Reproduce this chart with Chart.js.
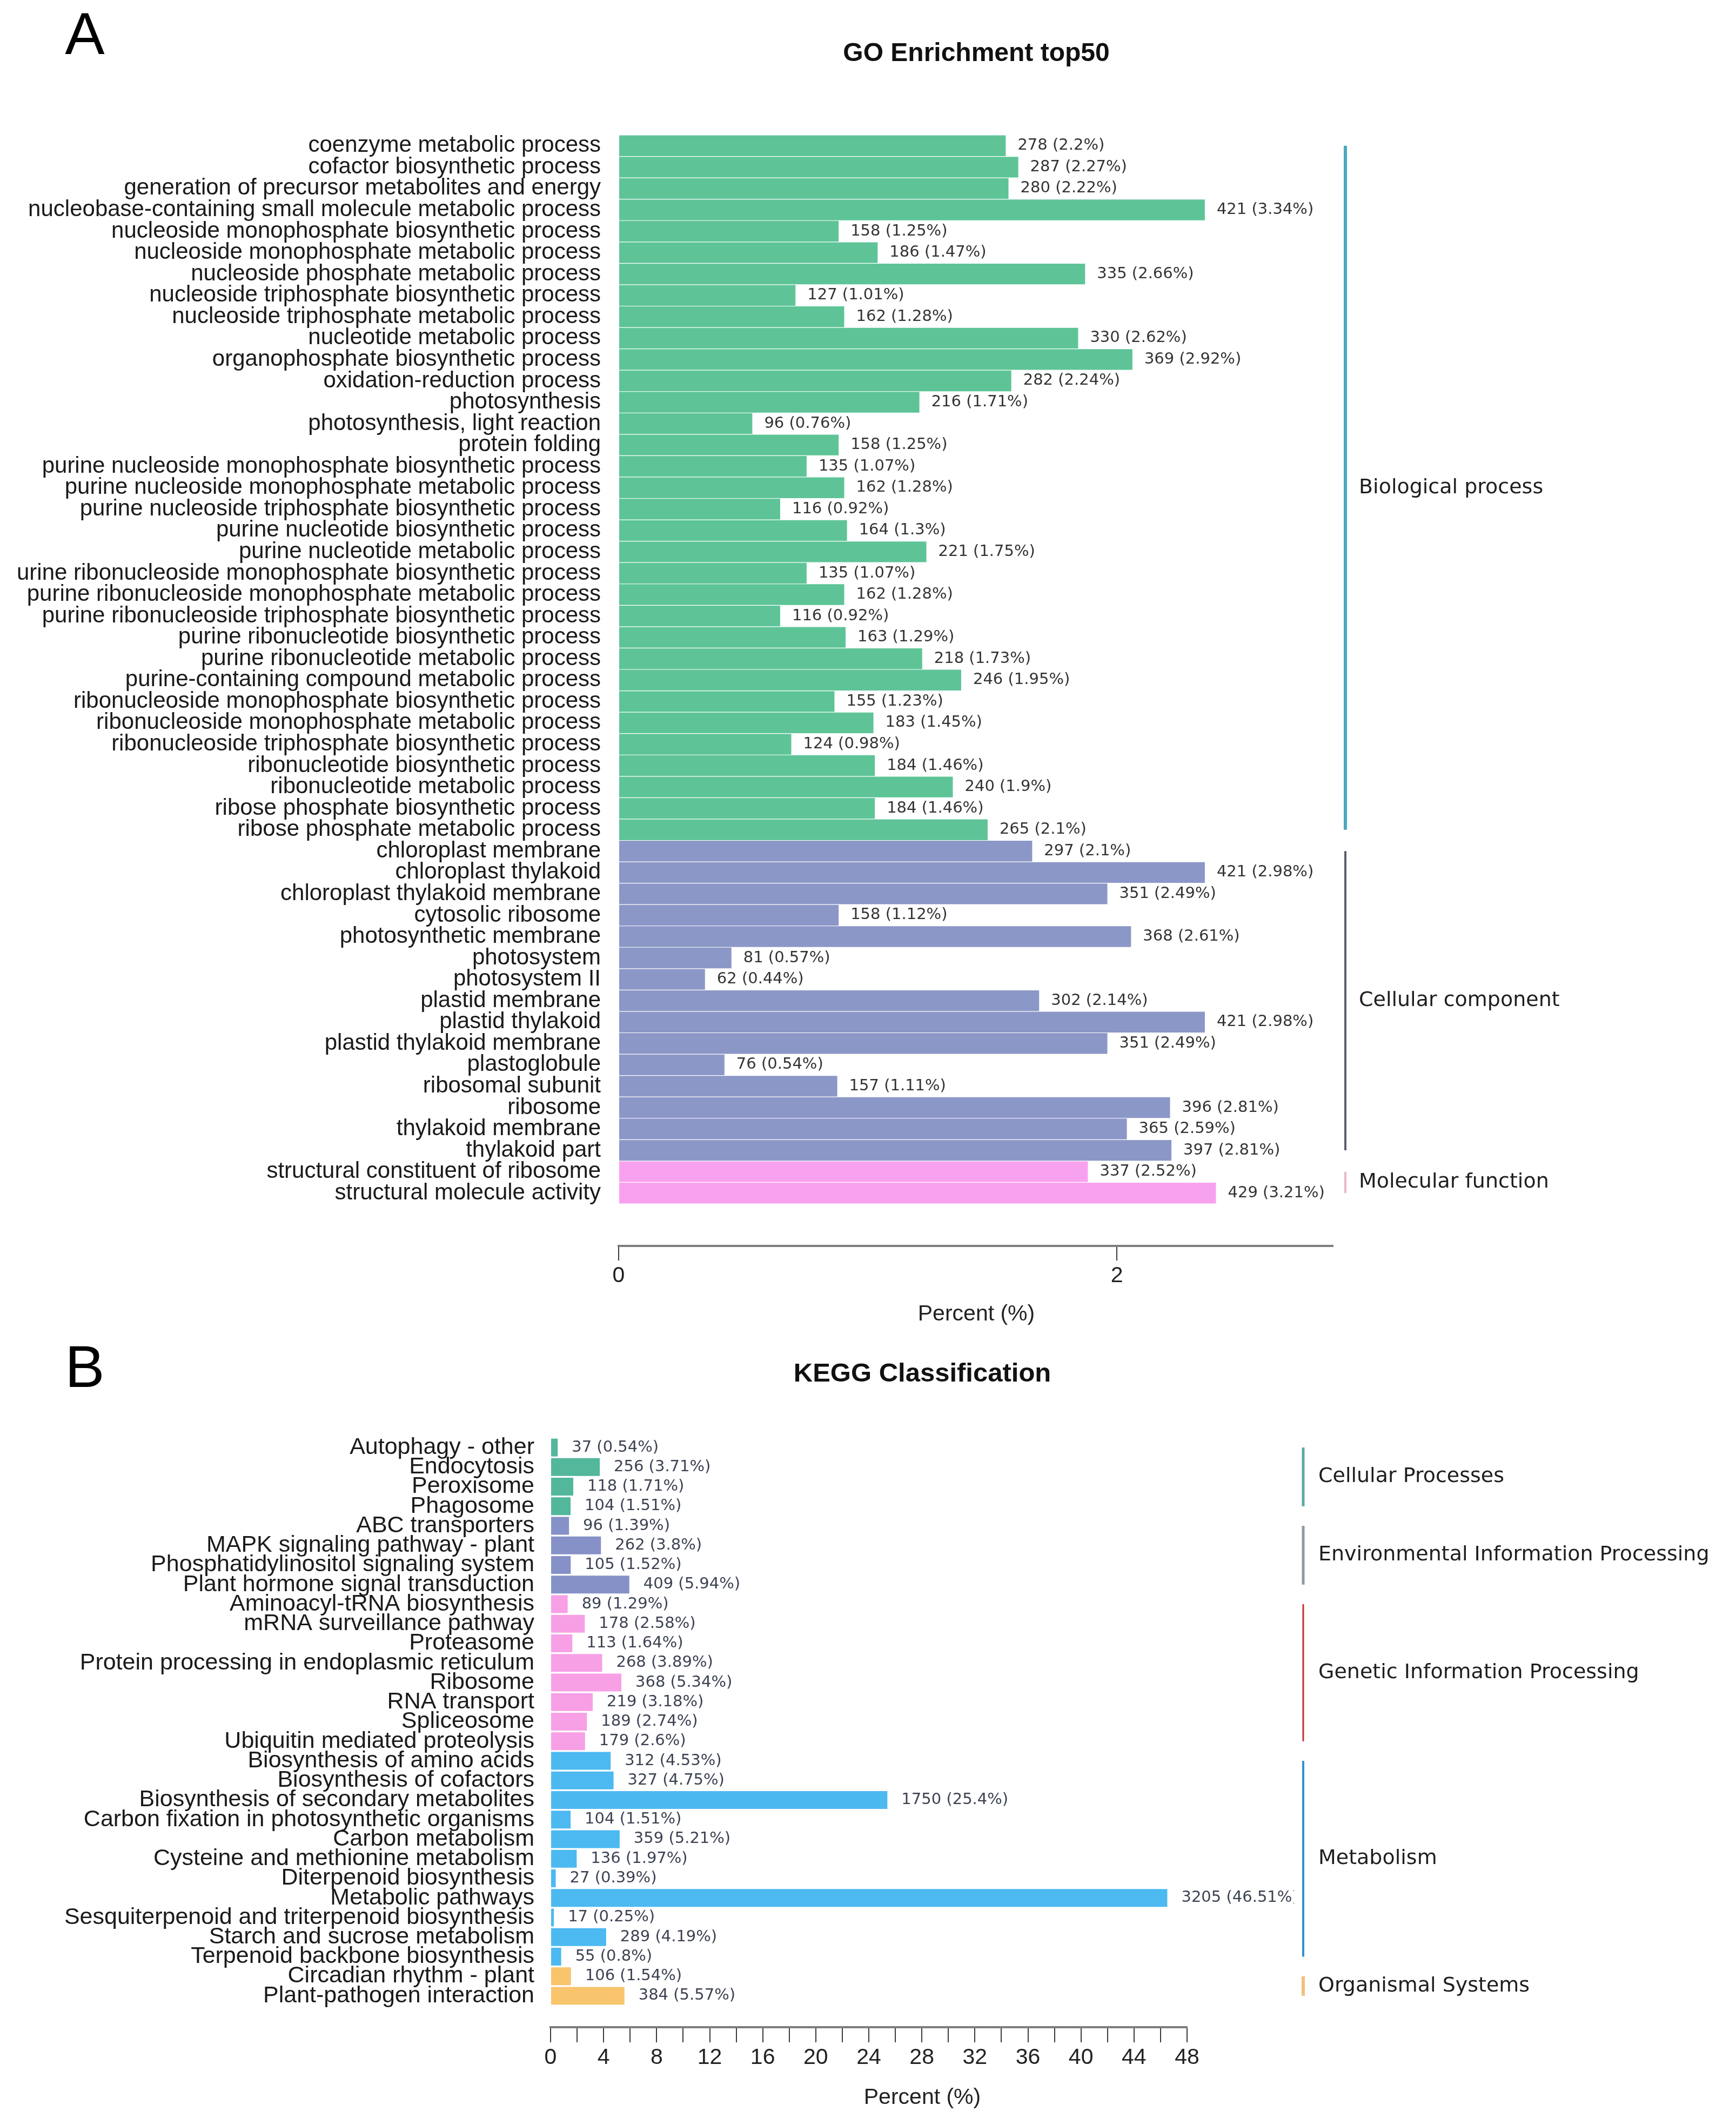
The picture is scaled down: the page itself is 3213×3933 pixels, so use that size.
<!DOCTYPE html>
<html>
<head>
<meta charset="utf-8">
<title>GO Enrichment top50 / KEGG Classification</title>
<script src="https://cdn.jsdelivr.net/npm/chart.js@4.4.1/dist/chart.umd.min.js"></script>
<style>
  html, body { margin: 0; padding: 0; background: #fff; overflow: hidden; }
  body { width: 3213px; height: 3933px; position: relative; }
  /* the GO panel is cropped on its left edge, as in the source figure */
  #go-clip { position: absolute; left: 30px; top: 0; width: 3183px; height: 2480px; overflow: hidden; }
  #go-box { position: absolute; left: -30px; top: 0; width: 3213px; height: 2480px; }
  #kegg-box { position: absolute; left: 0; top: 2480px; width: 3213px; height: 1453px; }
</style>
</head>
<body>
<div id="go-clip"><div id="go-box"><canvas id="go-chart"></canvas></div></div>
<div id="kegg-box"><canvas id="kegg-chart"></canvas></div>
<script>
// ---- GO data ----
const goTerms = [
  'coenzyme metabolic process',
  'cofactor biosynthetic process',
  'generation of precursor metabolites and energy',
  'nucleobase-containing small molecule metabolic process',
  'nucleoside monophosphate biosynthetic process',
  'nucleoside monophosphate metabolic process',
  'nucleoside phosphate metabolic process',
  'nucleoside triphosphate biosynthetic process',
  'nucleoside triphosphate metabolic process',
  'nucleotide metabolic process',
  'organophosphate biosynthetic process',
  'oxidation-reduction process',
  'photosynthesis',
  'photosynthesis, light reaction',
  'protein folding',
  'purine nucleoside monophosphate biosynthetic process',
  'purine nucleoside monophosphate metabolic process',
  'purine nucleoside triphosphate biosynthetic process',
  'purine nucleotide biosynthetic process',
  'purine nucleotide metabolic process',
  'purine ribonucleoside monophosphate biosynthetic process',
  'purine ribonucleoside monophosphate metabolic process',
  'purine ribonucleoside triphosphate biosynthetic process',
  'purine ribonucleotide biosynthetic process',
  'purine ribonucleotide metabolic process',
  'purine-containing compound metabolic process',
  'ribonucleoside monophosphate biosynthetic process',
  'ribonucleoside monophosphate metabolic process',
  'ribonucleoside triphosphate biosynthetic process',
  'ribonucleotide biosynthetic process',
  'ribonucleotide metabolic process',
  'ribose phosphate biosynthetic process',
  'ribose phosphate metabolic process',
  'chloroplast membrane',
  'chloroplast thylakoid',
  'chloroplast thylakoid membrane',
  'cytosolic ribosome',
  'photosynthetic membrane',
  'photosystem',
  'photosystem II',
  'plastid membrane',
  'plastid thylakoid',
  'plastid thylakoid membrane',
  'plastoglobule',
  'ribosomal subunit',
  'ribosome',
  'thylakoid membrane',
  'thylakoid part',
  'structural constituent of ribosome',
  'structural molecule activity'
];
const goCounts = [278, 287, 280, 421, 158, 186, 335, 127, 162, 330, 369, 282, 216, 96, 158,
  135, 162, 116, 164, 221, 135, 162, 116, 163, 218, 246, 155, 183, 124, 184, 240, 184, 265,
  297, 421, 351, 158, 368, 81, 62, 302, 421, 351, 76, 157, 396, 365, 397,
  337, 429];
const goPercents = [2.2, 2.27, 2.22, 3.34, 1.25, 1.47, 2.66, 1.01, 1.28, 2.62, 2.92, 2.24, 1.71, 0.76, 1.25,
  1.07, 1.28, 0.92, 1.3, 1.75, 1.07, 1.28, 0.92, 1.29, 1.73, 1.95, 1.23, 1.45, 0.98, 1.46, 1.9, 1.46, 2.1,
  2.1, 2.98, 2.49, 1.12, 2.61, 0.57, 0.44, 2.14, 2.98, 2.49, 0.54, 1.11, 2.81, 2.59, 2.81,
  2.52, 3.21];
const goGroupNames = ['Biological process', 'Cellular component', 'Molecular function'];
const goGroupSizes = [33, 15, 2];
const goTicks = [0, 2];            // percent ticks on the axis
const goCountsPerPercent = 178.9;  // tick spacing, in gene counts
const goAxisMax = 513;

// ---- KEGG data ----
const keggTerms = [
  'Autophagy - other', 'Endocytosis', 'Peroxisome', 'Phagosome',
  'ABC transporters', 'MAPK signaling pathway - plant', 'Phosphatidylinositol signaling system', 'Plant hormone signal transduction',
  'Aminoacyl-tRNA biosynthesis', 'mRNA surveillance pathway', 'Proteasome', 'Protein processing in endoplasmic reticulum',
  'Ribosome', 'RNA transport', 'Spliceosome', 'Ubiquitin mediated proteolysis',
  'Biosynthesis of amino acids', 'Biosynthesis of cofactors', 'Biosynthesis of secondary metabolites',
  'Carbon fixation in photosynthetic organisms', 'Carbon metabolism', 'Cysteine and methionine metabolism',
  'Diterpenoid biosynthesis', 'Metabolic pathways', 'Sesquiterpenoid and triterpenoid biosynthesis',
  'Starch and sucrose metabolism', 'Terpenoid backbone biosynthesis',
  'Circadian rhythm - plant', 'Plant-pathogen interaction'
];
const keggCounts = [37, 256, 118, 104, 96, 262, 105, 409, 89, 178, 113, 268, 368, 219, 189, 179,
  312, 327, 1750, 104, 359, 136, 27, 3205, 17, 289, 55, 106, 384];
const keggPercents = [0.54, 3.71, 1.71, 1.51, 1.39, 3.8, 1.52, 5.94, 1.29, 2.58, 1.64, 3.89, 5.34, 3.18, 2.74, 2.6,
  4.53, 4.75, 25.4, 1.51, 5.21, 1.97, 0.39, 46.51, 0.25, 4.19, 0.8, 1.54, 5.57];
const keggGroupNames = ['Cellular Processes', 'Environmental Information Processing', 'Genetic Information Processing',
  'Metabolism', 'Organismal Systems'];
const keggGroupSizes = [4, 4, 8, 11, 2];
const keggTicks = [0, 2, 4, 6, 8, 10, 12, 14, 16, 18, 20, 22, 24, 26, 28, 30, 32, 34, 36, 38, 40, 42, 44, 46, 48];

// ---- styles ----
const goBarColors = ['#5ec497', '#8b97c7', '#f8a2ef'];
const goLineColors = ['#4aa9c1', '#5a5f6b', '#e9b8cb'];
const goLineWidths = [6, 4, 4];
const keggBarColors = ['#52b79b', '#8691c8', '#f7a0e6', '#4cb9f1', '#f8c46c'];
const keggLineColors = ['#5ba8a3', '#9197a7', '#c42d3c', '#3191d2', '#f3bf7c'];
const keggLineWidths = [5, 5, 3, 4, 6];

function rowGroups(sizes) {
  const out = [];
  sizes.forEach((n, g) => { for (let k = 0; k < n; k++) out.push(g); });
  return out;
}
function groupSpans(names, sizes, colors, widths) {
  let start = 0;
  return names.map((name, g) => {
    const span = { name, from: start, to: start + sizes[g] - 1, color: colors[g], width: widths[g] };
    start += sizes[g];
    return span;
  });
}

// pull the bars up off the x axis, leaving a gap above the axis line
const barGap = {
  id: 'barGap',
  afterLayout(chart, args, opts) {
    const y = chart.scales.y;
    y.bottom -= opts.gap;
    y.height -= opts.gap;
    y.configure();
  }
};

const decor = {
  id: 'decor',
  afterDatasetsDraw(chart, args, o) {
    const ctx = chart.ctx;
    const area = chart.chartArea;
    const y = chart.scales.y;

    // value labels
    ctx.save();
    ctx.beginPath();
    ctx.rect(0, 0, area.right + o.clipRight, chart.height);
    ctx.clip();
    ctx.font = o.valueFont;
    ctx.fillStyle = o.valueColor;
    ctx.textAlign = 'left';
    ctx.textBaseline = 'middle';
    chart.getDatasetMeta(0).data.forEach((bar, i) => {
      ctx.fillText(o.counts[i] + ' (' + o.percents[i] + '%)', bar.x + o.valueGap, bar.y);
    });
    ctx.restore();

    // group brackets on the right
    ctx.save();
    ctx.font = o.groupFont;
    ctx.fillStyle = '#1e1e1e';
    ctx.textAlign = 'left';
    ctx.textBaseline = 'middle';
    o.groups.forEach(g => {
      const y0 = y.getPixelForValue(g.from);
      const y1 = y.getPixelForValue(g.to);
      ctx.strokeStyle = g.color;
      ctx.lineWidth = g.width;
      ctx.beginPath();
      ctx.moveTo(area.right + o.bracketOffset, y0);
      ctx.lineTo(area.right + o.bracketOffset, y1);
      ctx.stroke();
      ctx.fillText(g.name, area.right + o.labelOffset, (y0 + y1) / 2);
    });
    ctx.restore();
  },
  afterDraw(chart, args, o) {
    const ctx = chart.ctx;
    ctx.save();
    ctx.textAlign = 'center';
    ctx.textBaseline = 'middle';
    ctx.fillStyle = '#000';
    ctx.font = '110px "Liberation Sans", Arial, sans-serif';
    ctx.fillText(o.letter.text, o.letter.x, o.letter.y);
    ctx.fillStyle = '#111';
    ctx.font = 'bold ' + o.title.size + 'px "Liberation Sans", Arial, sans-serif';
    ctx.fillText(o.title.text, o.title.x, o.title.y);
    ctx.fillStyle = '#222';
    ctx.font = '41px "Liberation Sans", Arial, sans-serif';
    ctx.fillText(o.axisTitle.text, o.axisTitle.x, o.axisTitle.y);
    ctx.restore();
  }
};

const tickFont = { family: '"Liberation Sans", Arial, sans-serif', size: 41 };

// ---- GO chart ----
const goRowGroup = rowGroups(goGroupSizes);
new Chart(document.getElementById('go-chart'), {
  type: 'bar',
  data: {
    labels: goTerms,
    datasets: [{
      data: goCounts,
      backgroundColor: goRowGroup.map(g => goBarColors[g]),
      borderWidth: 0,
      categoryPercentage: 1,
      barPercentage: 0.97
    }]
  },
  options: {
    indexAxis: 'y',
    responsive: true,
    maintainAspectRatio: false,
    animation: false,
    devicePixelRatio: 1,
    layout: { padding: { top: 250, right: 746, left: 0, bottom: 0 } },
    plugins: {
      legend: { display: false },
      tooltip: { enabled: false },
      barGap: { gap: 78 },
      decor: {
        counts: goCounts,
        percents: goPercents,
        valueFont: '29px "DejaVu Sans", sans-serif',
        valueColor: '#333',
        valueGap: 22,
        clipRight: 700,
        groups: groupSpans(goGroupNames, goGroupSizes, goLineColors, goLineWidths),
        groupFont: '38px "DejaVu Sans", sans-serif',
        bracketOffset: 23,
        labelOffset: 48,
        letter: { text: 'A', x: 157, y: 70 },
        title: { text: 'GO Enrichment top50', x: 1807, y: 100, size: 48 },
        axisTitle: { text: 'Percent (%)', x: 1807, y: 2433 }
      }
    },
    scales: {
      y: {
        grid: { display: false, drawTicks: false },
        border: { display: false },
        ticks: { font: { family: '"Liberation Sans", Arial, sans-serif', size: 42 }, color: '#1a1a1a', padding: 33, autoSkip: false },
        afterFit: s => { s.width = 1145; }
      },
      x: {
        min: 0,
        max: goAxisMax,
        border: { display: true, color: '#7d7d7d', width: 4 },
        grid: { drawOnChartArea: false, drawTicks: true, tickLength: 27, color: '#3a3a3a', lineWidth: 2 },
        ticks: {
          font: tickFont, color: '#222', padding: 4, autoSkip: false, maxRotation: 0,
          callback: v => String(Math.round(v / goCountsPerPercent * 10) / 10)
        },
        afterBuildTicks: s => { s.ticks = goTicks.map(p => ({ value: p * goCountsPerPercent })); },
        afterFit: s => { s.height = 174; }
      }
    }
  },
  plugins: [barGap, decor]
});

// ---- KEGG chart ----
const keggRowGroup = rowGroups(keggGroupSizes);
new Chart(document.getElementById('kegg-chart'), {
  type: 'bar',
  data: {
    labels: keggTerms,
    datasets: [{
      data: keggPercents,
      backgroundColor: keggRowGroup.map(g => keggBarColors[g]),
      borderWidth: 0,
      categoryPercentage: 1,
      barPercentage: 0.91
    }]
  },
  options: {
    indexAxis: 'y',
    responsive: true,
    maintainAspectRatio: false,
    animation: false,
    devicePixelRatio: 1,
    layout: { padding: { top: 181, right: 1016, left: 0, bottom: 0 } },
    plugins: {
      legend: { display: false },
      tooltip: { enabled: false },
      barGap: { gap: 40 },
      decor: {
        counts: keggCounts,
        percents: keggPercents,
        valueFont: '29px "DejaVu Sans", sans-serif',
        valueColor: '#3c4252',
        valueGap: 26,
        clipRight: 198,
        groups: groupSpans(keggGroupNames, keggGroupSizes, keggLineColors, keggLineWidths),
        groupFont: '38px "DejaVu Sans", sans-serif',
        bracketOffset: 215,
        labelOffset: 243,
        letter: { text: 'B', x: 157, y: 57 },
        title: { text: 'KEGG Classification', x: 1707, y: 63, size: 49 },
        axisTitle: { text: 'Percent (%)', x: 1707, y: 1403 }
      }
    },
    scales: {
      y: {
        grid: { display: false, drawTicks: false },
        border: { display: false },
        ticks: { font: { family: '"Liberation Sans", Arial, sans-serif', size: 43 }, color: '#1a1a1a', padding: 30, autoSkip: false },
        afterFit: s => { s.width = 1019; }
      },
      x: {
        min: 0,
        max: 48,
        border: { display: true, color: '#7d7d7d', width: 4 },
        grid: { drawOnChartArea: false, drawTicks: true, tickLength: 28, color: '#3a3a3a', lineWidth: 2 },
        ticks: {
          font: tickFont, color: '#222', padding: 4, autoSkip: false, maxRotation: 0,
          callback: v => (v % 4 === 0 ? String(v) : '')
        },
        afterBuildTicks: s => { s.ticks = keggTicks.map(v => ({ value: v })); },
        afterFit: s => { s.height = 181; }
      }
    }
  },
  plugins: [barGap, decor]
});
</script>
</body>
</html>
